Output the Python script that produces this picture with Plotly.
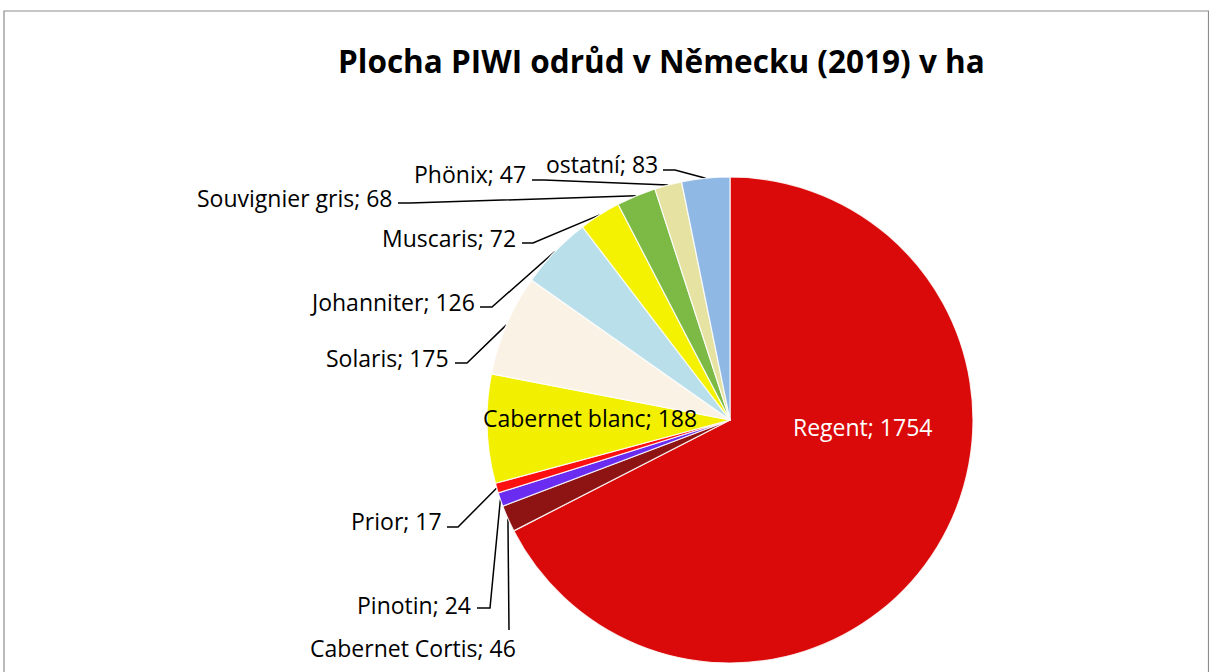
import math
import plotly.graph_objects as go

# ---- data ----
varieties = ["Regent", "Cabernet Cortis", "Pinotin", "Prior", "Cabernet blanc",
             "Solaris", "Johanniter", "Muscaris", "Souvignier gris", "Phönix", "ostatní"]
hectares = [1754, 46, 24, 17, 188, 175, 126, 72, 68, 47, 83]
title_text = "Plocha PIWI odrůd v Německu (2019) v ha"

# ---- styles / layout ----
colors = ["#DA0A0A", "#8E1414", "#6A2CF0", "#FF1010", "#F2F000", "#FBF2E6",
          "#B9DFEA", "#F4F200", "#7CBA45", "#E6E3A2", "#90B8E4"]
W, H = 1209, 672
CX, CY, R = 730, 420, 243
FONT = "Open Sans"
LABEL_SIZE = 23

# label placement (layout) in pixels
label_layout = {
    "Regent": dict(x=862, y=427, inside=True, color="white"),
    "Cabernet blanc": dict(x=590, y=418, inside=True, color="black"),
    "Cabernet Cortis": dict(x=413, y=648, xanchor="center", line=[(509, 630)]),
    "Pinotin": dict(x=473, y=605, line=[(477, 608), (490, 608)]),
    "Prior": dict(x=444, y=521, line=[(447, 527), (458, 527)]),
    "Solaris": dict(x=451, y=358, line=[(455, 363), (467, 363)]),
    "Johanniter": dict(x=477, y=302, line=[(480, 307), (492, 307)]),
    "Muscaris": dict(x=518, y=238, line=[(522, 243), (533, 243)]),
    "Souvignier gris": dict(x=395, y=198, line=[(398, 203), (410, 203)]),
    "Phönix": dict(x=528, y=174, line=[(532, 180), (544, 180)]),
    "ostatní": dict(x=660, y=164, line=[(663, 170), (675, 170)]),
}

fig = go.Figure()
fig.add_trace(go.Pie(
    labels=varieties, values=hectares, sort=False, direction="clockwise",
    rotation=0, marker=dict(colors=colors, line=dict(color="rgba(255,255,255,0.85)", width=1.2)),
    textinfo="none", hoverinfo="label+value", showlegend=False,
    domain=dict(x=[(CX - R) / W, (CX + R) / W], y=[(H - CY - R) / H, (H - CY + R) / H]),
))

total = sum(hectares)
cum = 0.0
annotations = []
for name, v in zip(varieties, hectares):
    mid = (cum + v / 2) / total * 2 * math.pi
    cum += v
    ex = CX + R * math.sin(mid)
    ey = CY - R * math.cos(mid)
    lay = label_layout[name]
    txt = f"{name}; {v}"
    if lay.get("inside"):
        annotations.append(dict(x=lay["x"], y=lay["y"], xref="x", yref="y", text=txt,
                                showarrow=False, xanchor="center", yanchor="middle",
                                font=dict(family=FONT, size=LABEL_SIZE, color=lay["color"])))
        continue
    annotations.append(dict(x=lay["x"], y=lay["y"], xref="x", yref="y", text=txt,
                            showarrow=False, xanchor=lay.get("xanchor", "right"),
                            yanchor="middle", font=dict(family=FONT, size=LABEL_SIZE, color="black")))
    pts = lay["line"] + [(ex, ey)]
    fig.add_trace(go.Scatter(x=[p[0] for p in pts], y=[p[1] for p in pts], mode="lines",
                             line=dict(color="black", width=1.5), hoverinfo="skip",
                             showlegend=False, xaxis="x", yaxis="y"))

annotations.append(dict(x=661, y=60, xref="x", yref="y", text=f"<b>{title_text}</b>",
                        showarrow=False, xanchor="center", yanchor="middle",
                        font=dict(family=FONT, size=31.5, color="black")))

fig.update_layout(
    width=W, height=H, margin=dict(l=0, r=0, t=0, b=0),
    paper_bgcolor="white", plot_bgcolor="rgba(0,0,0,0)",
    xaxis=dict(range=[0, W], visible=False, fixedrange=True, domain=[0, 1]),
    yaxis=dict(range=[H, 0], visible=False, fixedrange=True, domain=[0, 1]),
    annotations=annotations,
    shapes=[dict(type="rect", xref="x", yref="y", x0=4, y0=11, x1=1208.5, y1=700,
                 line=dict(color="#8C8C8C", width=1.2), layer="below")],
)

fig.write_html("out.html", config={"displayModeBar": False},
               post_script="document.body.style.margin='0';document.body.style.overflow='hidden';")
